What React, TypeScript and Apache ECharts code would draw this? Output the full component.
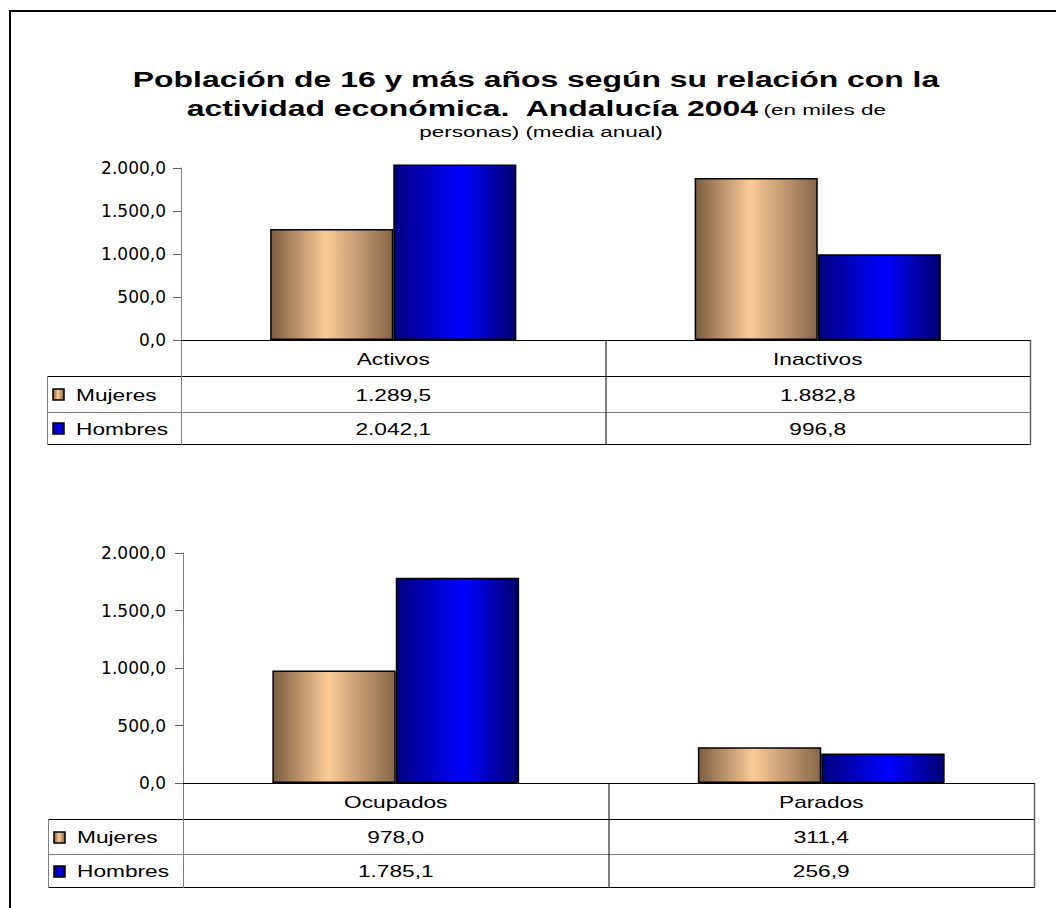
import React, { useEffect, useRef } from "react";
import * as echarts from "echarts";

// ---- data ----
const SERIES_NAMES = ["Mujeres", "Hombres"];
const CATS_TOP = ["Activos", "Inactivos"];
const MUJERES_TOP = [1289.5, 1882.8];
const HOMBRES_TOP = [2042.1, 996.8];
const CATS_BOT = ["Ocupados", "Parados"];
const MUJERES_BOT = [978.0, 311.4];
const HOMBRES_BOT = [1785.1, 256.9];
const Y_MIN = 0;
const Y_MAX = 2000;
const Y_STEP = 500;

const TITLE_LINE1 = "Población de 16 y más años según su relación con la";
const TITLE_LINE2_BOLD = "actividad económica.  Andalucía 2004";
const TITLE_LINE2_NORMAL = "(en miles de";
const TITLE_LINE3 = "personas) (media anual)";

// ---- layout ----
const W = 1056;
const H = 908;
const PANELS = [
  { left: 181, right: 1030, top: 168, bottom: 340, r1: 376, r2: 412, r3: 444, tableLeft: 47, labelMargin: 15 },
  { left: 183, right: 1034, top: 553, bottom: 783, r1: 819, r2: 854, r3: 887, tableLeft: 48, labelMargin: 17 },
];
const SMALL_FONT = "'DejaVu Sans', sans-serif";
const ARIAL = "'Liberation Sans', Arial, sans-serif";
const STRETCH = 1.42;

function fmt(v: number): string {
  const [i, d] = v.toFixed(1).split(".");
  const withDots = i.replace(/\B(?=(\d{3})+(?!\d))/g, ".");
  return withDots + "," + d;
}

const mujeresGrad = () =>
  new echarts.graphic.LinearGradient(0, 0, 1, 0, [
    { offset: 0, color: "#7b5d41" },
    { offset: 0.45, color: "#fdcb97" },
    { offset: 1, color: "#856749" },
  ]);
const hombresGrad = () =>
  new echarts.graphic.LinearGradient(0, 0, 1, 0, [
    { offset: 0, color: "#000080" },
    { offset: 0.55, color: "#0000ff" },
    { offset: 1, color: "#000070" },
  ]);

function line(x1: number, y1: number, x2: number, y2: number, stroke: string, lw = 1) {
  return { type: "line", silent: true, shape: { x1, y1, x2, y2 }, style: { stroke, lineWidth: lw } };
}

function cellText(text: string, x: number, y: number, align: string) {
  return {
    type: "text",
    silent: true,
    x,
    y,
    scaleX: STRETCH,
    style: {
      text,
      fontSize: 16,
      fontFamily: ARIAL,
      fill: "#000",
      align,
      verticalAlign: "middle",
    },
  };
}

function tableGraphics(p: any, cats: string[], muj: number[], hom: number[]) {
  const els: any[] = [];
  const mid = p.left + (p.right - p.left) / 2;
  const black = "#000";
  const gray = "#808080";
  // horizontal lines
  els.push(line(p.tableLeft, p.r1 + 0.5, p.right, p.r1 + 0.5, black));
  els.push(line(p.tableLeft, p.r2 + 0.5, p.right, p.r2 + 0.5, gray));
  els.push(line(p.tableLeft, p.r3 + 0.5, p.right, p.r3 + 0.5, black));
  // vertical lines
  els.push(line(p.tableLeft + 0.5, p.r1, p.tableLeft + 0.5, p.r3 + 1, gray));
  els.push(line(p.left + 0.5, p.bottom, p.left + 0.5, p.r3 + 1, gray));
  els.push(line(mid + 0.5, p.bottom, mid + 0.5, p.r3 + 1, black));
  els.push(line(p.right + 0.5, p.bottom, p.right + 0.5, p.r3 + 1, "#606060", 1.5));
  // header (category) cells and values
  const c1 = p.left + (p.right - p.left) / 4;
  const c2 = p.left + (3 * (p.right - p.left)) / 4;
  const y0 = (p.bottom + p.r1) / 2 + 1;
  const y1 = (p.r1 + p.r2) / 2 + 1;
  const y2 = (p.r2 + p.r3) / 2 + 1;
  els.push(cellText(cats[0], c1, y0, "center"));
  els.push(cellText(cats[1], c2, y0, "center"));
  els.push(cellText(fmt(muj[0]), c1, y1, "center"));
  els.push(cellText(fmt(muj[1]), c2, y1, "center"));
  els.push(cellText(fmt(hom[0]), c1, y2, "center"));
  els.push(cellText(fmt(hom[1]), c2, y2, "center"));
  // legend keys
  const keys = [
    { name: SERIES_NAMES[0], y: y1, fill: mujeresGrad() },
    { name: SERIES_NAMES[1], y: y2, fill: hombresGrad() },
  ];
  keys.forEach((k) => {
    els.push({
      type: "rect",
      silent: true,
      shape: { x: p.tableLeft + 6, y: Math.round(k.y - 6), width: 11, height: 11 },
      style: { fill: k.fill, stroke: "#000", lineWidth: 1.5 },
    });
    els.push(cellText(k.name, p.tableLeft + 29, k.y, "left"));
  });
  return els;
}

function titleGraphics() {
  const cx = 536;
  return [
    {
      type: "text",
      silent: true,
      x: cx,
      y: 79,
      scaleX: 1.45,
      style: {
        text: TITLE_LINE1,
        fontSize: 22,
        fontWeight: "bold",
        fontFamily: ARIAL,
        fill: "#000",
        align: "center",
        verticalAlign: "middle",
      },
    },
    {
      type: "text",
      silent: true,
      x: cx,
      y: 107,
      scaleX: 1.45,
      style: {
        text: "{b|" + TITLE_LINE2_BOLD + "} {s|" + TITLE_LINE2_NORMAL + "}",
        fontFamily: ARIAL,
        fill: "#000",
        align: "center",
        verticalAlign: "middle",
        rich: {
          b: { fontSize: 22, fontWeight: "bold", fontFamily: ARIAL, lineHeight: 24, verticalAlign: "bottom" },
          s: { fontSize: 15.5, fontFamily: ARIAL, lineHeight: 20, verticalAlign: "bottom", padding: [0, 0, 1, 0] },
        },
      },
    },
    {
      type: "text",
      silent: true,
      x: cx + 5,
      y: 132,
      scaleX: 1.45,
      style: {
        text: TITLE_LINE3,
        fontSize: 15.5,
        fontFamily: ARIAL,
        fill: "#000",
        align: "center",
        verticalAlign: "middle",
      },
    },
  ];
}

function frameGraphics() {
  return [
    line(10, 11, W, 11, "#000", 2),
    line(10, 10, 10, H, "#000", 2),
  ];
}

export default function App() {
  const ref = useRef<HTMLDivElement>(null);
  useEffect(() => {
    if (!ref.current) return;
    document.body.style.margin = "0";
    const chart = echarts.init(ref.current, undefined, { renderer: "svg" });
    const cats = [CATS_TOP, CATS_BOT];
    const data = [
      [MUJERES_TOP, HOMBRES_TOP],
      [MUJERES_BOT, HOMBRES_BOT],
    ];
    const grids = PANELS.map((p) => ({
      left: p.left,
      top: p.top,
      width: p.right - p.left,
      height: p.bottom - p.top,
      containLabel: false,
    }));
    const xAxes = PANELS.map((p, i) => ({
      type: "category",
      gridIndex: i,
      data: cats[i],
      axisLine: { show: true, lineStyle: { color: "#000", width: 1 } },
      axisTick: { show: false },
      axisLabel: { show: false },
      splitLine: { show: false },
    }));
    const yAxes = PANELS.map((p, i) => ({
      type: "value",
      gridIndex: i,
      min: Y_MIN,
      max: Y_MAX,
      interval: Y_STEP,
      axisLine: { show: true, lineStyle: { color: "#808080", width: 1 } },
      axisTick: { show: true, length: 8, inside: false, lineStyle: { color: "#606060" } },
      axisLabel: {
        margin: p.labelMargin,
        fontSize: 17,
        fontFamily: SMALL_FONT,
        color: "#000",
        formatter: (v: number) => fmt(v),
      },
      splitLine: { show: false },
    }));
    const series: any[] = [];
    PANELS.forEach((p, i) => {
      series.push({
        type: "bar",
        name: SERIES_NAMES[0],
        xAxisIndex: i,
        yAxisIndex: i,
        data: data[i][0],
        barGap: "0%",
        barCategoryGap: "42%",
        clip: false,
        itemStyle: { color: mujeresGrad(), borderColor: "#000", borderWidth: 1.5 },
      });
      series.push({
        type: "bar",
        name: SERIES_NAMES[1],
        xAxisIndex: i,
        yAxisIndex: i,
        data: data[i][1],
        barGap: "0%",
        barCategoryGap: "42%",
        clip: false,
        itemStyle: { color: hombresGrad(), borderColor: "#000", borderWidth: 1.5 },
      });
    });
    const graphics: any[] = [
      ...frameGraphics(),
      ...titleGraphics(),
      ...tableGraphics(PANELS[0], CATS_TOP, MUJERES_TOP, HOMBRES_TOP),
      ...tableGraphics(PANELS[1], CATS_BOT, MUJERES_BOT, HOMBRES_BOT),
    ];
    chart.setOption({
      animation: false,
      backgroundColor: "#fff",
      grid: grids,
      xAxis: xAxes,
      yAxis: yAxes,
      series,
      tooltip: { show: false },
      graphic: { elements: graphics },
    });
    return () => chart.dispose();
  }, []);
  return <div ref={ref} style={{ width: W, height: H, background: "#fff" }} />;
}
